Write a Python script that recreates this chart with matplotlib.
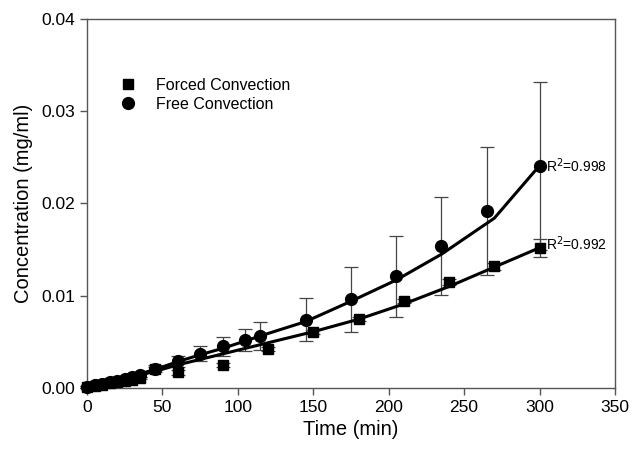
import matplotlib
matplotlib.use("Agg")
import matplotlib.pyplot as plt
from matplotlib.ticker import FormatStrFormatter

plt.rcParams['font.family'] = ['Liberation Sans', 'DejaVu Sans']

# forced convection (squares)
t_forced = [0, 5, 10, 15, 20, 25, 30, 35, 45, 60, 90, 120, 150, 180, 210, 240, 270, 300]
c_forced = [0.0001, 0.0002, 0.0003, 0.0005, 0.0006, 0.0008, 0.0009, 0.0011, 0.0021, 0.0017,
            0.0025, 0.0042, 0.0061, 0.0075, 0.0094, 0.0115, 0.0132, 0.0152]
sd_forced = [0.0001, 0.0001, 0.0001, 0.0001, 0.0001, 0.0001, 0.0001, 0.0001, 0.0002, 0.0003,
             0.0002, 0.0002, 0.0002, 0.0002, 0.0002, 0.0003, 0.0004, 0.0010]

# free convection (circles)
t_free = [0, 5, 10, 15, 20, 25, 30, 35, 45, 60, 75, 90, 105, 115, 145, 175, 205, 235, 265, 300]
c_free = [0.0001, 0.0003, 0.0004, 0.0006, 0.0008, 0.0010, 0.0012, 0.0014, 0.0021, 0.0029,
          0.0037, 0.0045, 0.0052, 0.0056, 0.0074, 0.0096, 0.0121, 0.0154, 0.0192, 0.0241]
sd_free = [0.0001, 0.0001, 0.0001, 0.0001, 0.0002, 0.0002, 0.0002, 0.0002, 0.0004, 0.0006,
           0.0008, 0.0010, 0.0012, 0.0015, 0.0023, 0.0035, 0.0044, 0.0053, 0.0069, 0.0091]

# fitted curves
t_fit_forced = [0, 15, 30, 45, 60, 90, 120, 150, 180, 210, 240, 270, 300]
c_fit_forced = [0.0, 0.0006, 0.0012, 0.0018, 0.0025, 0.0037, 0.0049, 0.0061, 0.00745,
                0.0091, 0.0110, 0.0131, 0.0152]
t_fit_free = [0, 15, 30, 45, 60, 75, 90, 105, 115, 145, 175, 205, 235, 270, 300]
c_fit_free = [0.0, 0.0007, 0.0013, 0.0020, 0.00285, 0.0036, 0.0043, 0.0051, 0.00565,
              0.0072, 0.0094, 0.0117, 0.0145, 0.0184, 0.0241]

r2_labels = ["R$^2$=0.998", "R$^2$=0.992"]

fig = plt.figure(figsize=(6.32, 4.51), dpi=100)
ax = fig.add_axes([0.1377, 0.1397, 0.8353, 0.8183])

ebc = '#444444'
ax.errorbar(t_forced, c_forced, yerr=sd_forced, fmt='none', ecolor=ebc, elinewidth=0.9,
            capsize=5, capthick=0.9, zorder=2, clip_on=False)
ax.errorbar(t_free, c_free, yerr=sd_free, fmt='none', ecolor=ebc, elinewidth=0.9,
            capsize=5, capthick=0.9, zorder=2, clip_on=False)
ax.plot(t_fit_forced, c_fit_forced, color='black', lw=2.2, zorder=3)
ax.plot(t_fit_free, c_fit_free, color='black', lw=2.2, zorder=3)
ax.plot(t_forced, c_forced, 's', color='black', ms=7, zorder=4, clip_on=False,
        label='Forced Convection')
ax.plot(t_free, c_free, 'o', color='black', ms=8.5, zorder=4, clip_on=False,
        label='Free Convection')

ax.text(304, c_free[-1], r2_labels[0], fontsize=10, va='center', ha='left')
ax.text(304, c_forced[-1] + 0.0004, r2_labels[1], fontsize=10, va='center', ha='left')

ax.set_xlim(0, 350)
ax.set_ylim(0, 0.04)
ax.set_xticks(range(0, 351, 50))
ax.set_yticks([0.0, 0.01, 0.02, 0.03, 0.04])
ax.yaxis.set_major_formatter(FormatStrFormatter('%.2f'))
ax.tick_params(direction='out', length=5, width=1, colors='#555555', labelcolor='black',
               labelsize=12.5, top=False, right=False)
for s in ax.spines.values():
  s.set_color('#555555')
  s.set_linewidth(1)

ax.set_xlabel('Time (min)', fontsize=14.5, labelpad=4)
ax.set_ylabel('Concentration (mg/ml)', fontsize=14.5, labelpad=6)

ax.legend(loc='upper left', bbox_to_anchor=(0.035, 0.858), frameon=False, fontsize=11.5,
          handletextpad=0.75, labelspacing=0.25, borderaxespad=0.)

fig.savefig('out.png', dpi=100)
